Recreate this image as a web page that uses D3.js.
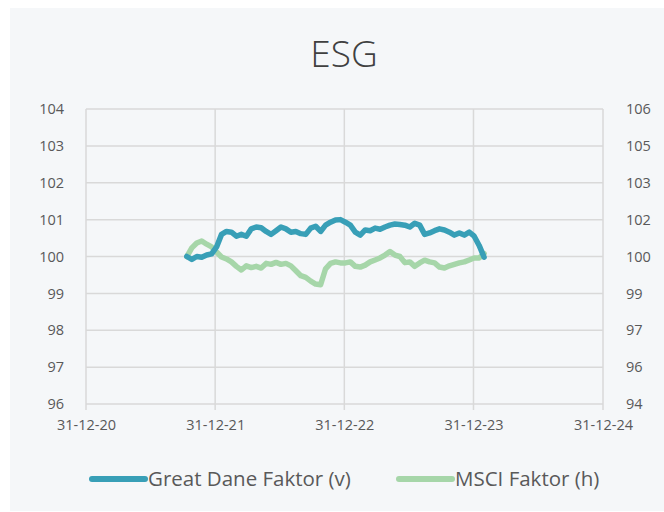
<!DOCTYPE html>
<html>
<head>
<meta charset="utf-8">
<script src="https://cdn.jsdelivr.net/npm/d3@7"></script>
<style>
  body { margin: 0; background: #fff; }
  text { font-family: "Open Sans", sans-serif; fill: #595959; }
</style>
</head>
<body>
<div id="chart"></div>
<script>
// biweekly observations
var dates = [
  "2021-10-12","2021-10-26","2021-11-09","2021-11-23","2021-12-07","2021-12-21",
  "2022-01-04","2022-01-18","2022-02-01","2022-02-15","2022-03-01","2022-03-15",
  "2022-03-29","2022-04-12","2022-04-26","2022-05-10","2022-05-24","2022-06-07",
  "2022-06-21","2022-07-05","2022-07-19","2022-08-02","2022-08-16","2022-08-30",
  "2022-09-13","2022-09-27","2022-10-11","2022-10-25","2022-11-08","2022-11-22",
  "2022-12-06","2022-12-20","2023-01-03","2023-01-17","2023-01-31","2023-02-14",
  "2023-02-28","2023-03-14","2023-03-28","2023-04-11","2023-04-25","2023-05-09",
  "2023-05-23","2023-06-06","2023-06-20","2023-07-04","2023-07-18","2023-08-01",
  "2023-08-15","2023-08-29","2023-09-12","2023-09-26","2023-10-10","2023-10-24",
  "2023-11-07","2023-11-21","2023-12-05","2023-12-19","2024-01-02","2024-01-16",
  "2024-01-30"
];
// Great Dane Faktor (v) - left axis
var greatDane = [
  100.0, 99.92, 100.0, 99.98, 100.04, 100.07,
  100.26, 100.6, 100.68, 100.66, 100.55, 100.6,
  100.55, 100.75, 100.8, 100.78, 100.68, 100.6,
  100.7, 100.8, 100.75, 100.66, 100.68, 100.62,
  100.6, 100.77, 100.82, 100.68, 100.85, 100.93,
  100.99, 101.0, 100.93, 100.85, 100.66, 100.58,
  100.72, 100.7, 100.77, 100.74, 100.8, 100.85,
  100.88, 100.87, 100.85, 100.8, 100.9, 100.85,
  100.6, 100.64, 100.7, 100.75, 100.72, 100.66,
  100.58, 100.64, 100.58, 100.66, 100.55, 100.3,
  99.98
];
// MSCI Faktor (h) - right axis
var msci = [
  100.0, 100.35, 100.55, 100.63, 100.5, 100.39,
  100.18, 99.98, 99.9, 99.78, 99.6, 99.45,
  99.62, 99.55, 99.6, 99.53, 99.72, 99.68,
  99.76, 99.68, 99.72, 99.62, 99.42, 99.22,
  99.15, 99.0, 98.88, 98.85, 99.5, 99.72,
  99.78, 99.74, 99.74, 99.78, 99.6, 99.57,
  99.65, 99.78, 99.86, 99.94, 100.06, 100.2,
  100.06, 100.0, 99.75, 99.78, 99.6, 99.74,
  99.85, 99.78, 99.74, 99.57, 99.53, 99.62,
  99.68, 99.74, 99.78, 99.86, 99.94, 99.94,
  100.12
];
var xTicks = ["2020-12-31","2021-12-31","2022-12-31","2023-12-31","2024-12-31"];
var leftTicks = [96, 97, 98, 99, 100, 101, 102, 103, 104];
var rightTicks = [94, 95.5, 97, 98.5, 100, 101.5, 103, 104.5, 106];
var seriesNames = ["Great Dane Faktor (v)", "MSCI Faktor (h)"];
var colours = ["#389fb7", "#a6d6a9"];

var W = 664, H = 512;
var margin = {top: 109, right: 61, bottom: 108, left: 86};
var width = W - margin.left - margin.right,
    height = H - margin.top - margin.bottom;

var parseDate = d3.timeParse("%Y-%m-%d");

var svg = d3.select("#chart").append("svg")
  .attr("width", W)
  .attr("height", H);

svg.append("rect")
  .attr("x", 10).attr("y", 8)
  .attr("width", W - 10).attr("height", H - 9)
  .attr("fill", "#f5f7f9");

svg.append("text")
  .attr("x", 344).attr("y", 67)
  .attr("text-anchor", "middle")
  .style("font-size", "37px")
  .style("font-weight", 300)
  .style("fill", "#404040")
  .text("ESG");

var g = svg.append("g")
  .attr("transform", "translate(" + margin.left + "," + margin.top + ")");

var x = d3.scaleTime()
  .domain([parseDate(xTicks[0]), parseDate(xTicks[xTicks.length - 1])])
  .range([0, width]);
var yL = d3.scaleLinear().domain([96, 104]).range([height, 0]);
var yR = d3.scaleLinear().domain([94, 106]).range([height, 0]);

// grid
g.append("g").selectAll("line.h")
  .data(leftTicks)
  .enter().append("line")
  .attr("x1", 0).attr("x2", width)
  .attr("y1", function(d){ return yL(d); })
  .attr("y2", function(d){ return yL(d); })
  .attr("stroke", "#d9d9d9").attr("stroke-width", 1.5);

g.append("g").selectAll("line.v")
  .data(xTicks)
  .enter().append("line")
  .attr("x1", function(d){ return x(parseDate(d)); })
  .attr("x2", function(d){ return x(parseDate(d)); })
  .attr("y1", 0).attr("y2", height + 6)
  .attr("stroke", "#d9d9d9").attr("stroke-width", 1.5);

// axes labels
var xAxis = g.append("g")
  .attr("transform", "translate(0," + height + ")")
  .call(d3.axisBottom(x).tickValues(xTicks.map(parseDate))
    .tickFormat(d3.timeFormat("%d-%m-%y")).tickSize(0).tickPadding(16));
var yAxisL = g.append("g")
  .call(d3.axisLeft(yL).tickValues(leftTicks).tickSize(0).tickPadding(22));
var yAxisR = g.append("g")
  .attr("transform", "translate(" + width + ",0)")
  .call(d3.axisRight(yR).tickValues(rightTicks)
    .tickFormat(function(d){ return Math.round(d); }).tickSize(0).tickPadding(23));

[xAxis, yAxisL, yAxisR].forEach(function(a){
  a.select(".domain").remove();
  a.selectAll("text")
    .style("font-size", "14.5px")
    .style("font-family", "'Open Sans', sans-serif")
    .attr("fill", "#595959");
});

// lines
var lineL = d3.line()
  .x(function(d, i){ return x(parseDate(dates[i])); })
  .y(function(d){ return yL(d); });
var lineR = d3.line()
  .x(function(d, i){ return x(parseDate(dates[i])); })
  .y(function(d){ return yR(d); });

g.append("path")
  .datum(msci)
  .attr("d", lineR)
  .attr("fill", "none")
  .attr("stroke", colours[1])
  .attr("stroke-width", 5.5)
  .attr("stroke-linejoin", "round")
  .attr("stroke-linecap", "round");

g.append("path")
  .datum(greatDane)
  .attr("d", lineL)
  .attr("fill", "none")
  .attr("stroke", colours[0])
  .attr("stroke-width", 5.5)
  .attr("stroke-linejoin", "round")
  .attr("stroke-linecap", "round");

// legend
var legendX = [92, 399];
var legend = svg.selectAll("g.legend")
  .data(seriesNames)
  .enter().append("g")
  .attr("transform", function(d, i){ return "translate(" + legendX[i] + ",479)"; });

legend.append("line")
  .attr("x1", 0).attr("x2", 53)
  .attr("stroke", function(d, i){ return colours[i]; })
  .attr("stroke-width", 6)
  .attr("stroke-linecap", "round");

legend.append("text")
  .attr("x", 56).attr("y", 7)
  .style("font-size", "20.5px")
  .text(function(d){ return d; });
</script>
</body>
</html>
